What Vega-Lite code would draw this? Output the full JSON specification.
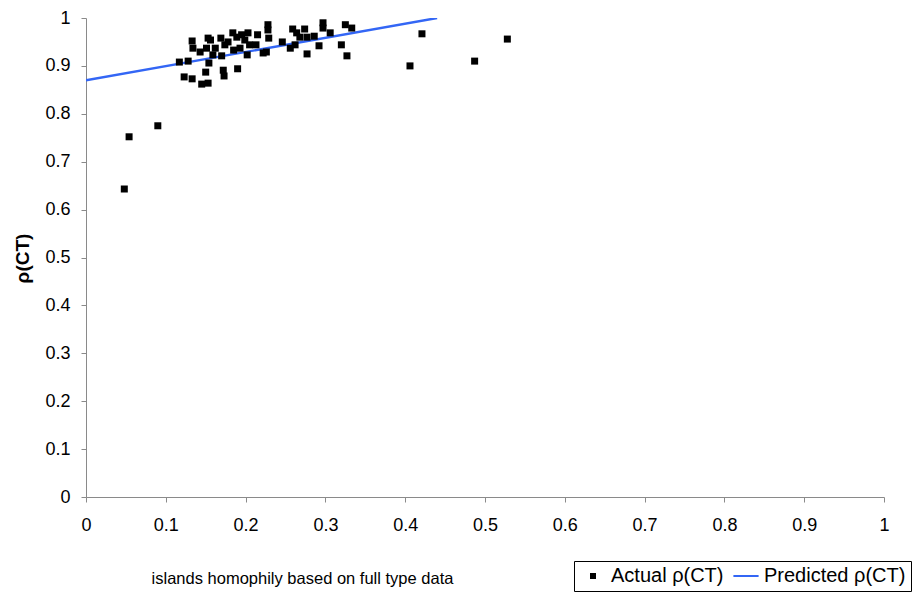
{
  "$schema": "https://vega.github.io/schema/vega-lite/v6.json",
  "width": 798,
  "height": 479,
  "autosize": {"type": "none"},
  "padding": {"left": 86, "top": 18, "right": 34, "bottom": 96},
  "background": "white",
  "config": {
    "font": "Liberation Sans",
    "view": {"stroke": null},
    "axis": {"grid": false, "domainColor": "#8a8a8a", "tickColor": "#8a8a8a", "labelFont": "Liberation Sans", "labelFontSize": 18, "labelColor": "black", "titleColor": "black", "tickSize": 5}
  },
  "datasets": {
    "actual": [
      {"x": 0.048, "y": 0.643, "series": "Actual ρ(CT)"},
      {"x": 0.054, "y": 0.752, "series": "Actual ρ(CT)"},
      {"x": 0.090, "y": 0.775, "series": "Actual ρ(CT)"},
      {"x": 0.406, "y": 0.900, "series": "Actual ρ(CT)"},
      {"x": 0.421, "y": 0.967, "series": "Actual ρ(CT)"},
      {"x": 0.487, "y": 0.910, "series": "Actual ρ(CT)"},
      {"x": 0.528, "y": 0.956, "series": "Actual ρ(CT)"},
      {"x": 0.117, "y": 0.908, "series": "Actual ρ(CT)"},
      {"x": 0.128, "y": 0.910, "series": "Actual ρ(CT)"},
      {"x": 0.123, "y": 0.877, "series": "Actual ρ(CT)"},
      {"x": 0.133, "y": 0.873, "series": "Actual ρ(CT)"},
      {"x": 0.145, "y": 0.862, "series": "Actual ρ(CT)"},
      {"x": 0.153, "y": 0.864, "series": "Actual ρ(CT)"},
      {"x": 0.150, "y": 0.887, "series": "Actual ρ(CT)"},
      {"x": 0.154, "y": 0.906, "series": "Actual ρ(CT)"},
      {"x": 0.172, "y": 0.891, "series": "Actual ρ(CT)"},
      {"x": 0.173, "y": 0.879, "series": "Actual ρ(CT)"},
      {"x": 0.190, "y": 0.894, "series": "Actual ρ(CT)"},
      {"x": 0.133, "y": 0.952, "series": "Actual ρ(CT)"},
      {"x": 0.134, "y": 0.937, "series": "Actual ρ(CT)"},
      {"x": 0.143, "y": 0.929, "series": "Actual ρ(CT)"},
      {"x": 0.153, "y": 0.958, "series": "Actual ρ(CT)"},
      {"x": 0.156, "y": 0.954, "series": "Actual ρ(CT)"},
      {"x": 0.151, "y": 0.937, "series": "Actual ρ(CT)"},
      {"x": 0.162, "y": 0.937, "series": "Actual ρ(CT)"},
      {"x": 0.159, "y": 0.923, "series": "Actual ρ(CT)"},
      {"x": 0.169, "y": 0.958, "series": "Actual ρ(CT)"},
      {"x": 0.170, "y": 0.921, "series": "Actual ρ(CT)"},
      {"x": 0.178, "y": 0.950, "series": "Actual ρ(CT)"},
      {"x": 0.174, "y": 0.944, "series": "Actual ρ(CT)"},
      {"x": 0.184, "y": 0.969, "series": "Actual ρ(CT)"},
      {"x": 0.189, "y": 0.960, "series": "Actual ρ(CT)"},
      {"x": 0.195, "y": 0.965, "series": "Actual ρ(CT)"},
      {"x": 0.203, "y": 0.969, "series": "Actual ρ(CT)"},
      {"x": 0.199, "y": 0.954, "series": "Actual ρ(CT)"},
      {"x": 0.185, "y": 0.933, "series": "Actual ρ(CT)"},
      {"x": 0.193, "y": 0.937, "series": "Actual ρ(CT)"},
      {"x": 0.202, "y": 0.923, "series": "Actual ρ(CT)"},
      {"x": 0.205, "y": 0.944, "series": "Actual ρ(CT)"},
      {"x": 0.213, "y": 0.944, "series": "Actual ρ(CT)"},
      {"x": 0.215, "y": 0.965, "series": "Actual ρ(CT)"},
      {"x": 0.228, "y": 0.986, "series": "Actual ρ(CT)"},
      {"x": 0.228, "y": 0.975, "series": "Actual ρ(CT)"},
      {"x": 0.229, "y": 0.958, "series": "Actual ρ(CT)"},
      {"x": 0.226, "y": 0.929, "series": "Actual ρ(CT)"},
      {"x": 0.222, "y": 0.927, "series": "Actual ρ(CT)"},
      {"x": 0.246, "y": 0.950, "series": "Actual ρ(CT)"},
      {"x": 0.259, "y": 0.977, "series": "Actual ρ(CT)"},
      {"x": 0.264, "y": 0.969, "series": "Actual ρ(CT)"},
      {"x": 0.268, "y": 0.960, "series": "Actual ρ(CT)"},
      {"x": 0.274, "y": 0.977, "series": "Actual ρ(CT)"},
      {"x": 0.277, "y": 0.960, "series": "Actual ρ(CT)"},
      {"x": 0.286, "y": 0.962, "series": "Actual ρ(CT)"},
      {"x": 0.256, "y": 0.937, "series": "Actual ρ(CT)"},
      {"x": 0.262, "y": 0.944, "series": "Actual ρ(CT)"},
      {"x": 0.277, "y": 0.925, "series": "Actual ρ(CT)"},
      {"x": 0.292, "y": 0.942, "series": "Actual ρ(CT)"},
      {"x": 0.297, "y": 0.990, "series": "Actual ρ(CT)"},
      {"x": 0.297, "y": 0.979, "series": "Actual ρ(CT)"},
      {"x": 0.306, "y": 0.969, "series": "Actual ρ(CT)"},
      {"x": 0.320, "y": 0.944, "series": "Actual ρ(CT)"},
      {"x": 0.325, "y": 0.986, "series": "Actual ρ(CT)"},
      {"x": 0.333, "y": 0.979, "series": "Actual ρ(CT)"},
      {"x": 0.327, "y": 0.921, "series": "Actual ρ(CT)"}
    ],
    "predicted": [
      {"x": 0, "y": 0.87, "series": "Predicted ρ(CT)"},
      {"x": 0.44, "y": 1.0, "series": "Predicted ρ(CT)"}
    ]
  },
  "layer": [
    {
      "data": {"name": "predicted"},
      "mark": {"type": "line", "strokeWidth": 2.4, "clip": true},
      "encoding": {
        "x": {"field": "x", "type": "quantitative"},
        "y": {"field": "y", "type": "quantitative"},
        "color": {"field": "series", "type": "nominal"}
      }
    },
    {
      "data": {"name": "actual"},
      "mark": {"type": "point", "filled": true, "opacity": 1, "size": 49},
      "encoding": {
        "x": {
          "field": "x", "type": "quantitative",
          "scale": {"domain": [0, 1], "nice": false, "zero": true},
          "axis": {"values": [0, 0.1, 0.2, 0.3, 0.4, 0.5, 0.6, 0.7, 0.8, 0.9, 1], "format": ".2~f", "labelPadding": 14, "labelFlush": false,
                   "title": "islands homophily based on full type data", "titleFont": "Liberation Sans", "titleFontSize": 16.5, "titleFontWeight": "normal",
                   "titleX": 216, "titleY": 81, "titleAlign": "center", "titleBaseline": "middle"}
        },
        "y": {
          "field": "y", "type": "quantitative",
          "scale": {"domain": [0, 1], "nice": false},
          "axis": {"values": [0, 0.1, 0.2, 0.3, 0.4, 0.5, 0.6, 0.7, 0.8, 0.9, 1], "format": ".2~f", "labelPadding": 11, "labelFlush": false,
                   "title": "ρ(CT)", "titleFont": "Liberation Sans", "titleFontSize": 19, "titleFontWeight": "bold",
                   "titleX": -64, "titleY": 240, "titleAngle": -90, "titleAlign": "center", "titleBaseline": "middle"}
        },
        "color": {
          "field": "series", "type": "nominal",
          "scale": {"domain": ["Actual ρ(CT)", "Predicted ρ(CT)"], "range": ["black", "#3366f5"]},
          "legend": {
            "title": null, "orient": "none", "legendX": 488, "legendY": 543, "direction": "horizontal",
            "strokeColor": "black", "padding": 5, "columnPadding": 5, "labelFontSize": 20, "labelFont": "Liberation Sans",
            "symbolSize": 16, "symbolStrokeWidth": 2, "symbolOffset": 4, "labelOffset": 8
          }
        },
        "shape": {
          "field": "series", "type": "nominal",
          "scale": {"domain": ["Actual ρ(CT)", "Predicted ρ(CT)"], "range": ["square", "M-6.3,0H6.3"]}
        }
      }
    }
  ]
}
